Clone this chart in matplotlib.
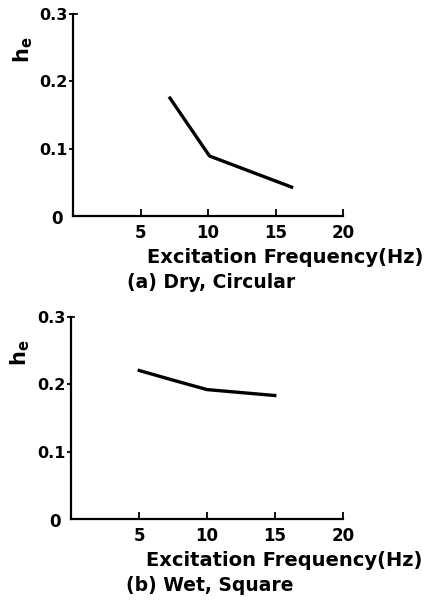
import matplotlib
matplotlib.use("Agg")
import matplotlib.pyplot as plt

# (a) dry, circular
freq_a = [7.1, 10.1, 16.3]
he_a = [0.177, 0.089, 0.042]
# (b) wet, square
freq_b = [4.9, 7.5, 10.0, 15.1]
he_b = [0.221, 0.206, 0.192, 0.183]

xticks = [5, 10, 15, 20]
yticks = [0.1, 0.2, 0.3]
ytick_labels = ["0.1", "0.2", "0.3"]
xlabel = "Excitation Frequency(Hz)"
titles = ["(a) Dry, Circular", "(b) Wet, Square"]

plt.rcParams["font.family"] = "DejaVu Sans"
plt.rcParams["font.weight"] = "bold"
plt.rcParams["mathtext.fontset"] = "custom"
plt.rcParams["mathtext.bf"] = "DejaVu Sans:bold"

fig = plt.figure(figsize=(4.41, 6.0), dpi=100)
ax_a = fig.add_axes([0.166, 0.64, 0.612, 0.337])
ax_b = fig.add_axes([0.161, 0.135, 0.617, 0.337])

for ax, fx, hy, title in [(ax_a, freq_a, he_a, titles[0]), (ax_b, freq_b, he_b, titles[1])]:
	ax.plot(fx, hy, color="black", lw=2.4, solid_capstyle="butt")
	ax.set_xlim(0, 20)
	ax.set_ylim(0, 0.3)
	ax.spines["top"].set_visible(False)
	ax.spines["right"].set_visible(False)
	ax.spines["left"].set_linewidth(1.6)
	ax.spines["bottom"].set_linewidth(1.6)
	ax.set_xticks(xticks)
	ax.set_yticks(yticks)
	ax.set_yticklabels(ytick_labels)
	ax.tick_params(axis="x", direction="in", length=5, width=1.3, labelsize=12, pad=6)
	ax.tick_params(axis="y", direction="out", length=3, width=1.3, labelsize=11.5, pad=1)
	# short inward tick at the top of the y axis
	ax.plot([0, 0.25], [0.3, 0.3], color="black", lw=1.3, clip_on=False)
	ax.text(-0.06, -0.015, "0", transform=ax.transAxes, ha="center", va="center",
		fontsize=12, fontweight="bold")
	ax.set_xlabel(xlabel, fontsize=14, fontweight="bold")
	ax.xaxis.label.set_va("center")
	ax.xaxis.set_label_coords(0.785, -0.203)
	ax.text(0.51, -0.33, title, transform=ax.transAxes, ha="center", va="center",
		fontsize=13.5, fontweight="bold")
	ax.text(-0.185, 0.82, r"$\mathbf{h_e}$", transform=ax.transAxes, rotation=90,
		ha="center", va="center", fontsize=15)

fig.savefig("out.png", dpi=100)
